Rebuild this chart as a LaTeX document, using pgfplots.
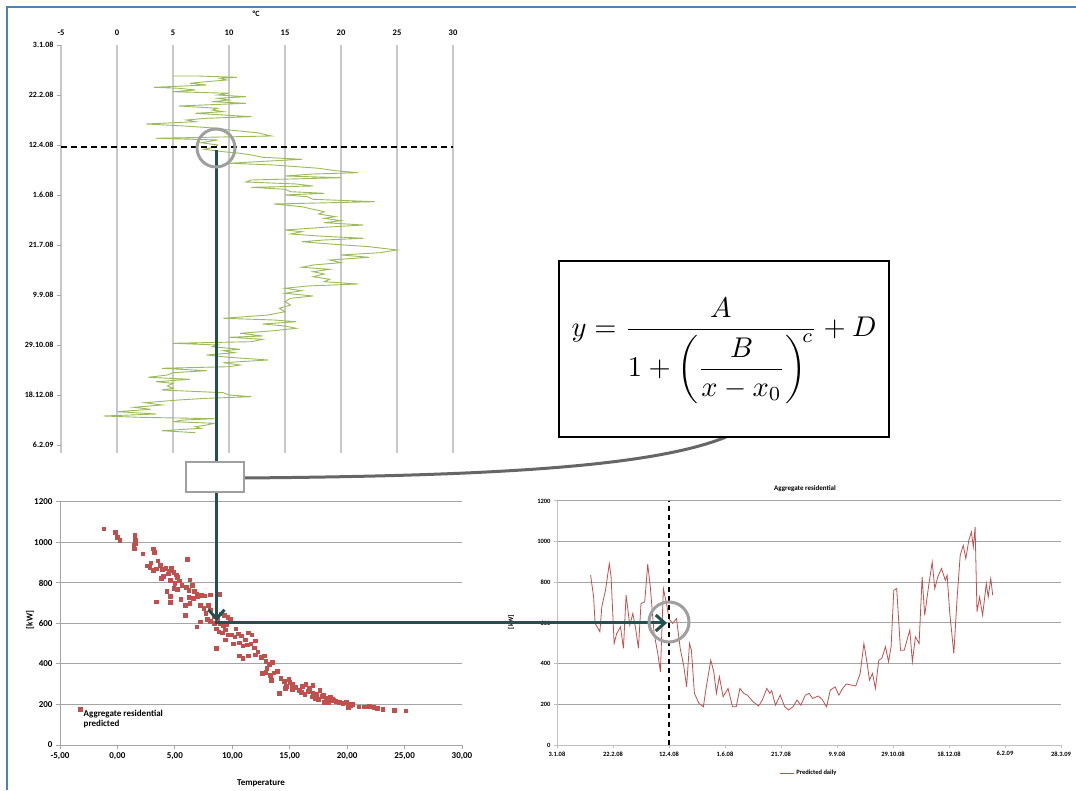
\documentclass[border=0pt]{standalone}
\usepackage{pgfplots}
\pgfplotsset{compat=1.18}
\usepackage{pgfplotstable}
\usepackage{amsmath}
\usepackage{fontspec}
\setmainfont{Carlito}
\usepackage{graphicx}
\usetikzlibrary{arrows.meta}
\definecolor{tgreen}{RGB}{155,187,89}
\definecolor{lred}{RGB}{192,80,77}
\definecolor{tealdark}{RGB}{36,80,80}
\definecolor{frameblue}{RGB}{79,129,189}
\definecolor{gridg}{RGB}{200,200,200}
\definecolor{gridb}{RGB}{165,165,165}
\pgfplotstableread{
T day
5.0 31.0
7.2 31.0
10.7 32.3
9.2 33.3
9.8 35.0
8.0 36.7
6.5 38.3
8.0 40.0
3.3 42.3
5.5 43.3
7.0 45.0
5.0 46.7
10.0 48.3
9.0 50.0
11.5 51.7
9.0 53.3
10.0 55.0
8.5 56.7
11.5 58.3
5.5 61.0
9.0 63.3
8.5 65.0
9.5 66.7
7.0 68.3
12.0 71.7
8.0 73.3
6.2 75.0
7.0 76.7
2.6 79.0
6.0 81.0
9.0 83.3
10.0 85.0
12.5 87.7
13.8 91.0
3.5 93.3
9.0 95.0
7.5 97.7
9.0 100.0
8.8 101.7
7.8 104.3
9.5 106.7
11.0 108.3
12.0 110.0
13.0 112.3
16.5 114.3
12.5 116.7
10.0 118.3
14.0 120.0
18.0 123.3
19.5 125.7
21.5 127.7
17.5 129.0
15.0 131.0
20.0 132.7
12.0 135.0
11.5 137.0
16.0 139.0
17.5 141.0
12.0 142.3
15.0 144.3
15.5 146.7
18.5 148.3
15.0 150.0
17.0 151.7
17.5 154.3
23.0 156.7
14.0 159.0
16.5 161.7
17.5 164.3
18.5 166.7
18.0 169.0
19.5 171.7
18.5 173.3
20.0 175.7
18.5 177.7
22.0 180.0
18.5 182.3
15.0 185.0
16.5 186.7
15.5 189.0
18.0 191.0
22.0 193.3
18.5 195.0
16.5 196.7
19.0 199.0
22.5 201.7
25.0 205.0
23.5 207.7
20.0 210.0
22.5 212.3
19.0 215.0
20.0 217.7
17.5 220.0
16.5 222.3
19.0 224.3
17.5 226.7
18.5 229.0
17.5 231.7
19.0 234.3
18.5 236.7
21.5 239.0
17.0 241.0
15.0 243.3
16.5 245.7
15.0 248.3
17.5 251.0
15.5 253.3
15.0 256.7
15.5 260.0
14.5 263.3
15.0 266.7
13.5 270.0
9.5 273.3
14.0 275.0
16.0 276.7
13.0 279.0
15.0 281.0
16.0 283.3
14.0 285.7
11.0 288.3
13.0 291.0
10.0 292.3
13.0 294.3
12.0 296.7
5.0 298.3
9.0 300.0
8.5 301.7
11.0 304.3
9.5 305.7
10.5 307.7
8.0 310.0
10.0 312.3
13.5 315.0
9.5 317.7
11.0 320.0
10.0 321.7
4.0 323.3
8.0 325.7
5.0 327.7
4.5 330.0
2.8 332.3
6.5 334.3
3.5 336.7
5.0 338.3
4.5 341.0
5.0 343.3
4.0 345.0
9.5 347.7
10.0 350.0
12.0 351.7
8.0 353.3
5.5 355.0
2.5 357.7
4.0 360.0
1.5 362.3
3.0 364.3
0.0 366.7
3.5 369.0
-1.2 371.0
2.0 372.3
8.7 373.7
6.0 375.0
5.0 376.7
8.7 378.3
8.0 380.0
7.0 381.7
7.5 383.3
4.0 385.7
7.0 387.7
}\temptable
\begin{document}
\begin{tikzpicture}[x=1pt,y=1pt]
\useasboundingbox (0,0) rectangle (1076,790);
\fill[white] (0,0) rectangle (1076,790);
\draw[frameblue, line width=2pt] (7,0) -- (7,783) -- (1076,783);

% ---------------- top chart: temperature (y = minus day) ----------------
\begin{axis}[at={(61pt,337pt)}, anchor=south west, scale only axis,
  width=392pt, height=408pt,
  xmin=-5, xmax=30, ymin=-408, ymax=0, clip=false,
  axis line style={draw=none},
  xtick={-5,0,...,30}, xticklabel pos=upper,
  xtick style={draw=none},
  x tick label style={font=\bfseries\fontsize{8.5}{9}\selectfont, yshift=2pt},
  ytick={-400,-350,...,0},
  yticklabels={6.2.09,18.12.08,29.10.08,9.9.08,21.7.08,1.6.08,12.4.08,22.2.08,3.1.08},
  ytick style={gridb, line width=0.8pt}, ytick pos=left,
  y tick label style={font=\bfseries\fontsize{8}{9}\selectfont},
  major tick length=4pt, tick align=outside,
  xmajorgrids, grid style={gridg, line width=1.5pt},
  /pgf/number format/assume math mode=true]
\addplot[tgreen, line width=0.9pt] table[x=T, y expr=-\thisrow{day}] {\temptable};
\draw[black, line width=1.8pt, dash pattern=on 6pt off 4pt] (axis cs:-5,-101.7) -- (axis cs:30,-101.7);
\end{axis}
\node[font=\bfseries\fontsize{8}{9}\selectfont] at (256,776) {°C};

% ---------------- bottom-left: scatter ----------------
\begin{axis}[at={(60pt,45pt)}, anchor=south west, scale only axis,
  width=402pt, height=243pt,
  xmin=-5, xmax=30, ymin=0, ymax=1200, clip=false,
  axis line style={draw=none},
  xtick={-5,0,...,30}, ytick={0,200,...,1200},
  xtick pos=left, ytick pos=left,
  ymajorgrids, grid style={gridb, line width=1pt},
  tick style={gridb, line width=1pt}, major tick length=4pt, tick align=outside,
  xticklabel style={font=\bfseries\fontsize{9}{10}\selectfont, /pgf/number format/.cd, fixed, fixed zerofill, precision=2, use comma},
  yticklabel style={font=\bfseries\fontsize{9}{10}\selectfont, /pgf/number format/.cd, set thousands separator={}},
  /pgf/number format/assume math mode=true,
  legend style={at={(axis cs:-3.7,196)}, anchor=north west, draw=none, fill=none,
    font=\bfseries\fontsize{9}{10}\selectfont, cells={align=left}, row sep=0pt},
  legend cell align=left,
  legend image code/.code={\draw[#1] plot coordinates {(0.15cm,10pt)};}]
\draw[gridb, line width=1pt] (axis cs:-5,0) -- (axis cs:-5,1200);
\draw[gridb, line width=1pt] (axis cs:-5,0) -- (axis cs:30,0);
\addplot[only marks, mark=square*, mark size=1.8pt, color=lred, mark options={draw=none, fill=lred}] table {
x y
-1.2 1068
-0.2 1050
0.0 1025
0.2 1010
1.5 1035
1.55 1012
1.4 990
1.6 995
1.45 970
2.2 945
3.1 970
3.2 952
2.6 885
2.8 878
3.1 862
3.5 910
3.7 888
3.4 870
3.9 868
4.2 872
4.5 860
4.7 875
4.4 845
4.0 835
3.8 825
4.9 852
5.1 840
5.2 828
4.6 815
5.0 800
5.4 812
5.6 790
4.9 775
4.3 760
4.6 735
3.4 707
4.6 705
5.5 720
6.1 918
6.3 817
6.0 780
6.2 765
6.5 790
6.7 760
6.9 745
6.6 725
6.3 700
5.9 690
5.9 641
7.0 735
7.3 740
7.6 738
8.1 742
8.9 745
7.2 690
7.5 675
7.9 690
8.1 668
7.7 650
6.9 584
7.2 608
7.8 620
8.1 612
8.4 635
8.7 620
9.0 648
9.3 640
9.6 630
9.8 622
8.9 600
9.2 590
9.5 598
8.6 575
8.8 560
9.1 555
9.4 570
9.6 545
8.6 477
9.4 520
9.9 545
10.2 535
10.5 550
10.8 540
11.1 520
11.4 555
11.7 545
10.1 500
10.6 505
10.9 490
11.3 495
11.6 500
12.0 515
10.6 440
10.9 430
11.4 440
12.0 445
12.2 460
12.5 435
12.8 440
12.9 415
13.2 400
13.5 410
12.6 355
12.9 360
13.3 345
13.6 358
13.9 365
13.4 320
14.2 330
14.5 315
14.7 290
14.9 325
15.2 300
14.6 280
14.1 255
15.2 275
15.5 285
15.8 270
16.1 290
16.4 300
16.7 280
16.0 260
16.3 250
16.6 265
17.0 255
17.3 250
17.6 270
17.9 245
17.2 232
17.5 225
17.8 240
18.2 230
18.5 235
18.8 220
16.9 238
18.0 210
18.4 212
18.7 225
19.0 215
19.3 210
19.6 205
19.9 212
20.1 200
20.3 195
20.1 185
20.5 200
21.0 190
21.5 190
21.9 192
22.3 188
22.6 182
23.1 178
24.1 172
25.1 170
17.0 295
15.0 310
13.0 380
11.9 480
10.3 575
8.4 600
6.2 730
5.2 770
2.9 900
};
\addlegendentry{Aggregate residential\\predicted}
\end{axis}
\node[font=\bfseries\fontsize{9}{10}\selectfont] at (261,7) {Temperature};
\node[font=\bfseries\fontsize{9}{10}\selectfont, rotate=90] at (30,170) {[kW]};

% ---------------- bottom-right: daily line ----------------
\begin{axis}[at={(557pt,45pt)}, anchor=south west, scale only axis,
  width=504pt, height=244pt,
  xmin=0, xmax=450, ymin=0, ymax=1200, clip=false,
  axis line style={draw=none},
  xtick={0,50,...,450},
  xticklabels={3.1.08,22.2.08,12.4.08,1.6.08,21.7.08,9.9.08,29.10.08,18.12.08,6.2.09,28.3.09},
  ytick={0,200,...,1200},
  xtick pos=left, ytick pos=left,
  ymajorgrids, grid style={gridb, line width=1pt},
  tick style={gridb!70, line width=1pt}, major tick length=3pt, tick align=outside,
  xticklabel style={font=\bfseries\fontsize{6.5}{7}\selectfont},
  yticklabel style={font=\bfseries\fontsize{6.5}{7}\selectfont, /pgf/number format/.cd, set thousands separator={}},
  /pgf/number format/assume math mode=true,
  legend style={at={(0.5,-0.115)}, anchor=center, draw=none, fill=none,
    font=\bfseries\fontsize{6.5}{7}\selectfont},
  legend image code/.code={\draw[#1] (0pt,0pt) -- (14pt,0pt);}]
\draw[gridb!70, line width=1pt] (axis cs:0,0) -- (axis cs:0,1200);
\draw[gridb!70, line width=1pt] (axis cs:0,0) -- (axis cs:450,0);
\addplot[lred, line width=0.8pt] coordinates {(30.0,835) (32.7,728) (34.0,598) (36.7,573) (38.3,557) (40.0,680) (43.3,761) (46.7,892) (48.3,827) (51.0,499) (53.3,548) (56.7,581) (59.3,475) (61.7,737) (65.0,589) (67.7,647) (70.0,581) (72.7,475) (75.0,696) (78.3,704) (81.0,889) (83.3,778) (86.7,548) (90.0,450) (92.3,360) (95.0,769) (98.3,680) (100.0,620) (103.3,598) (106.7,622) (110.0,475) (113.3,385) (115.7,286) (118.3,499) (120.0,466) (122.7,254) (126.7,205) (130.7,188) (133.3,286) (137.3,417) (140.0,360) (142.3,254) (145.0,336) (148.3,237) (152.7,278) (156.7,188) (160.0,188) (163.3,278) (166.7,254) (170.0,245) (175.0,213) (180.0,192) (183.3,221) (187.3,278) (190.0,254) (191.7,267) (195.0,196) (199.3,245) (203.3,188) (206.7,172) (210.7,188) (214.3,221) (217.7,196) (221.7,245) (225.0,254) (228.3,229) (233.3,241) (236.7,224) (240.7,188) (244.0,270) (248.3,286) (251.7,245) (255.0,278) (258.3,300) (262.7,295) (266.7,290) (270.7,352) (274.0,499) (276.7,409) (279.0,319) (281.7,352) (284.3,278) (287.3,417) (290.0,426) (293.3,483) (296.0,409) (298.3,483) (300.7,761) (303.3,769) (306.7,466) (310.0,466) (313.3,532) (315.0,565) (317.3,409) (320.0,532) (323.3,499) (326.0,827) (328.3,638) (331.7,778) (335.0,900) (337.3,769) (340.0,827) (343.3,868) (346.7,810) (348.3,835) (350.7,647) (354.3,450) (357.3,728) (360.0,933) (362.7,982) (365.0,917) (367.7,1007) (370.0,1048) (371.7,974) (373.3,1072) (375.0,655) (377.3,728) (380.0,638) (383.3,794) (385.0,728) (387.3,819) (389.0,737)};
\addlegendentry{Predicted daily}
\draw[black, line width=1.4pt, dash pattern=on 5pt off 4pt] (axis cs:100,0) -- (axis cs:100,1200);
\end{axis}
\node[font=\bfseries\fontsize{7}{8}\selectfont] at (805,301) {Aggregate residential};
\node[font=\bfseries\fontsize{7}{8}\selectfont, rotate=90] at (511,168) {[kW]};

% ---------------- annotations ----------------
\draw[gray!80!black, line width=3pt] (244,312) .. controls (480,314) and (650,322) .. (726,353);
\draw[tealdark, line width=3pt, -{Straight Barb[length=9pt,width=16pt]}] (216.5,640) -- (216.5,169);
\draw[tealdark, line width=3pt, -{Straight Barb[length=9pt,width=16pt]}] (215,167) -- (667,167);
\draw[gray!75, line width=2pt, fill=white] (186,298) rectangle (244,328);
\draw[gray!75, line width=3pt] (216,642) circle (19);
\draw[gray!75, line width=3pt] (669,168) circle (20);
\draw[black, line width=1.8pt, fill=white] (559,353) rectangle (889,529);
\node at (724,439) {\scalebox{2.85}{$\displaystyle y=\frac{A}{1+\left(\dfrac{B}{x-x_0}\right)^{\!c}}+D$}};
\end{tikzpicture}
\end{document}
